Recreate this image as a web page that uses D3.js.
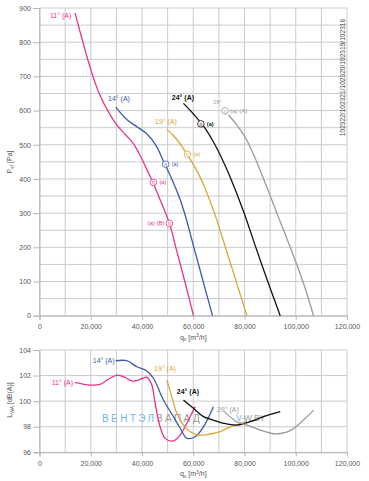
<!DOCTYPE html>
<html>
<head>
<meta charset="utf-8">
<script src="https://cdn.jsdelivr.net/npm/d3@7"></script>
<style>
  body { margin: 0; background: #fff; }
  svg { font-family: "Liberation Sans", Arial, sans-serif; }
</style>
</head>
<body>
<script>
// ---- data ----
var qTicks = [0, 20000, 40000, 60000, 80000, 100000, 120000];
var pTicks = [0, 100, 200, 300, 400, 500, 600, 700, 800, 900];
var lTicks = [96, 98, 100, 102, 104];

var angles = ["11°", "14°", "19°", "24°", "29°"];
var colors = ["#e8318a", "#3d5aa8", "#d6a838", "#111111", "#9a9a9a"];

// pressure curves [q, Psf]
var press11 = [[13900,885],[19700,728],[23600,645],[30150,558],[33500,530],[36500,505],[39200,470],[41870,428],[43830,397],[47300,335],[50700,270],[53700,185],[56900,95],[60080,0]];
var press14 = [[29760,610],[34060,574],[37970,553],[41870,532],[45780,494],[48360,452],[51620,400],[54880,340],[57000,290],[60240,200],[63870,100],[67500,0]];
var press19 = [[49680,545],[52500,525],[55500,496],[58790,458],[63350,395],[68280,300],[72460,202],[76760,100],[80930,0]];
var press24 = [[56170,621],[60080,590],[63980,555],[67890,508],[71160,460],[74020,412],[79630,305],[84180,205],[88980,102],[93940,0]];
var press29 = [[73750,587],[77000,558],[80270,522],[83500,472],[86800,412],[89800,355],[92640,300],[97850,200],[102800,100],[106950,0]];

// sound power curves [q, LWA]
var sound11 = [[13870,101.47],[19730,101.26],[23630,101.31],[27540,101.79],[30400,102.04],[33400,101.86],[36000,101.58],[38600,101.65],[41870,101.86],[43830,101.26],[45120,99.83],[47070,98.0],[49030,97.09],[52260,96.89],[54880,97.35],[58790,98.78],[60740,99.57]];
var sound14 = [[29760,103.16],[34060,103.16],[37970,102.69],[41870,102.36],[44450,101.79],[48360,100.09],[52260,98.79],[54880,97.9],[57500,97.1],[60740,97.22],[63980,98.0],[67890,99.57]];
var sound19 = [[49680,101.65],[51630,100.35],[53590,99.05],[56170,98.13],[58790,97.61],[62030,97.35],[66600,97.43],[70500,97.61],[73120,97.87],[80930,98.39]];
var sound24 = [[56170,100.09],[60080,99.44],[63980,98.79],[68000,98.5],[71800,98.27],[77020,98.13],[82230,98.39],[87440,98.79],[93940,99.18]];
var sound29 = [[72000,99.2],[77020,98.39],[80930,98.13],[86130,97.74],[91300,97.45],[94000,97.47],[97850,97.7],[103050,98.53],[107000,99.3]];

// efficiency markers on the pressure curves [curve index, q, Psf]
var etaMarks = [[0,44450,390],[0,50700,270],[1,49220,443],[2,57730,472],[3,62970,561],[4,72460,599]];

var pressCurves = [press11, press14, press19, press24, press29];
var soundCurves = [sound11, sound14, sound19, sound24, sound29];

var W = 369, H = 481;
var svg = d3.select("body").append("svg").attr("width", W).attr("height", H);

var x = d3.scaleLinear().domain([0, 120000]).range([39.5, 347]);
var yP = d3.scaleLinear().domain([0, 900]).range([315.7, 8]);
var yL = d3.scaleLinear().domain([96, 104]).range([452.3, 350]);

var gridCol = "#cbcbcb", txtCol = "#555";

function grid(y, yTicksAll) {
  var g = svg.append("g");
  d3.range(0, 120001, 10000).forEach(function(v) {
    g.append("line").attr("x1", x(v)).attr("x2", x(v))
      .attr("y1", y.range()[1]).attr("y2", y.range()[0])
      .attr("stroke", gridCol).attr("stroke-width", 1);
  });
  yTicksAll.forEach(function(v) {
    g.append("line").attr("x1", x(0)).attr("x2", x(120000))
      .attr("y1", y(v)).attr("y2", y(v))
      .attr("stroke", gridCol).attr("stroke-width", 1);
  });
}
grid(yP, d3.range(0, 901, 50));
grid(yL, lTicks);

function axes(y, yTicks, xTitleY) {
  var ax = svg.append("g").attr("transform", "translate(0," + y.range()[0] + ")")
    .call(d3.axisBottom(x).tickValues(qTicks).tickFormat(d3.format(",")).tickSize(4).tickPadding(4.5));
  var ay = svg.append("g").attr("transform", "translate(" + x(0) + ",0)")
    .call(d3.axisLeft(y).tickValues(yTicks).tickSize(6).tickPadding(2.5));
  [ax, ay].forEach(function(a) {
    a.select(".domain").attr("stroke", "#b5b5b5");
    a.selectAll(".tick line").attr("stroke", "#b5b5b5");
    a.selectAll("text").attr("fill", txtCol).style("font-size", "7px")
      .style("font-family", "Liberation Sans, Arial, sans-serif");
  });
  var t = svg.append("text").attr("x", (x(0) + x(120000)) / 2).attr("y", xTitleY)
    .attr("text-anchor", "middle").attr("fill", txtCol).style("font-size", "7px");
  t.append("tspan").text("q");
  t.append("tspan").attr("dy", 1.5).style("font-size", "5px").text("v");
  t.append("tspan").attr("dy", -1.5).text(" [m");
  t.append("tspan").attr("dy", -2.5).style("font-size", "5px").text("3");
  t.append("tspan").attr("dy", 2.5).text("/h]");
}
axes(yP, pTicks, 339.5);
axes(yL, lTicks, 476);

function yTitle(cx, cy, main, sub, rest) {
  var t = svg.append("text").attr("transform", "translate(" + cx + "," + cy + ") rotate(-90)")
    .attr("text-anchor", "middle").attr("fill", txtCol).style("font-size", "7px");
  t.append("tspan").text(main);
  t.append("tspan").attr("dy", 1.5).style("font-size", "5px").text(sub);
  t.append("tspan").attr("dy", -1.5).text(rest);
}
yTitle(12, 162, "P", "sf", " [Pa]");
yTitle(12, 400, "L", "WA", " [dB(A)]");

// watermark
var wm = svg.append("text").attr("x", 102).attr("y", 421.5).style("font-size", "10px")
  .style("letter-spacing", "2.4px");
wm.append("tspan").attr("fill", "#74b6e6").text("ВЕНТЭЛ");
wm.append("tspan").attr("fill", "#9a9a9a").text("ЗАПАД");
var wm2 = svg.append("text").attr("x", 236).attr("y", 421).style("font-size", "8.5px");
wm2.append("tspan").attr("fill", "#74b6e6").text("V-");
wm2.append("tspan").attr("fill", "#9a9a9a").text("W.BY");

// right side article numbers
svg.append("text").attr("transform", "translate(344.5,77.5) rotate(-90)")
  .attr("text-anchor", "middle").attr("fill", "#444").style("font-size", "6.6px")
  .text("102322/102321/102320/102319/102318");

var lineP = d3.line().x(function(d) { return x(d[0]); }).y(function(d) { return yP(d[1]); })
  .curve(d3.curveCatmullRom.alpha(0.5));
var lineL = d3.line().x(function(d) { return x(d[0]); }).y(function(d) { return yL(d[1]); })
  .curve(d3.curveCatmullRom.alpha(0.5));

pressCurves.forEach(function(c, i) {
  svg.append("path").attr("d", lineP(c)).attr("fill", "none")
    .attr("stroke", colors[i]).attr("stroke-width", 1.3);
});
soundCurves.forEach(function(c, i) {
  svg.append("path").attr("d", lineL(c)).attr("fill", "none")
    .attr("stroke", colors[i]).attr("stroke-width", 1.3);
});

// efficiency markers
etaMarks.forEach(function(m, k) {
  var cx = x(m[1]), cy = yP(m[2]), col = colors[m[0]];
  svg.append("circle").attr("cx", cx).attr("cy", cy).attr("r", 3.3)
    .attr("fill", "#fff").attr("stroke", col).attr("stroke-width", 0.8);
  svg.append("text").attr("x", cx).attr("y", cy + 1.8).attr("text-anchor", "middle")
    .attr("fill", col).style("font-size", "5px").text("η");
  var bold = m[0] === 3 ? "bold" : "normal";
  if (k === 1) {
    svg.append("text").attr("x", cx - 5).attr("y", cy + 2).attr("text-anchor", "end")
      .attr("fill", col).style("font-size", "6px").text("(a) (B)");
  } else if (m[0] === 4) {
    svg.append("text").attr("x", cx + 5).attr("y", cy + 2).attr("fill", col)
      .style("font-size", "6px").text("(a) (A)");
  } else {
    svg.append("text").attr("x", cx + 6).attr("y", cy + 2).attr("fill", col)
      .style("font-weight", bold).style("font-size", "5.5px").text("(a)");
  }
});

// curve labels [curve index, q, value, text]
var pLabels = [[0,4100,877,"11° (A)"],[1,26760,634,"14° (A)"],[2,45110,567,"19° (A)"],[3,51640,639,"24° (A)"],[4,67770,625,"29°"]];
var lLabels = [[0,4770,101.44,"11° (A)"],[1,20780,103.16,"14° (A)"],[2,44720,102.53,"19° (A)"],[3,53590,100.74,"24° (A)"],[4,69220,99.36,"29° (A)"]];

pLabels.forEach(function(l) {
  svg.append("text").attr("x", x(l[1])).attr("y", yP(l[2])).attr("dy", "0.35em")
    .attr("fill", colors[l[0]]).style("font-size", l[0] === 4 ? "5.5px" : "7px")
    .style("font-weight", l[0] === 3 ? "bold" : "normal").text(l[3]);
});
lLabels.forEach(function(l) {
  svg.append("text").attr("x", x(l[1])).attr("y", yL(l[2])).attr("dy", "0.35em")
    .attr("fill", colors[l[0]]).style("font-size", "7px")
    .style("font-weight", l[0] === 3 ? "bold" : "normal").text(l[3]);
});
</script>
</body>
</html>
